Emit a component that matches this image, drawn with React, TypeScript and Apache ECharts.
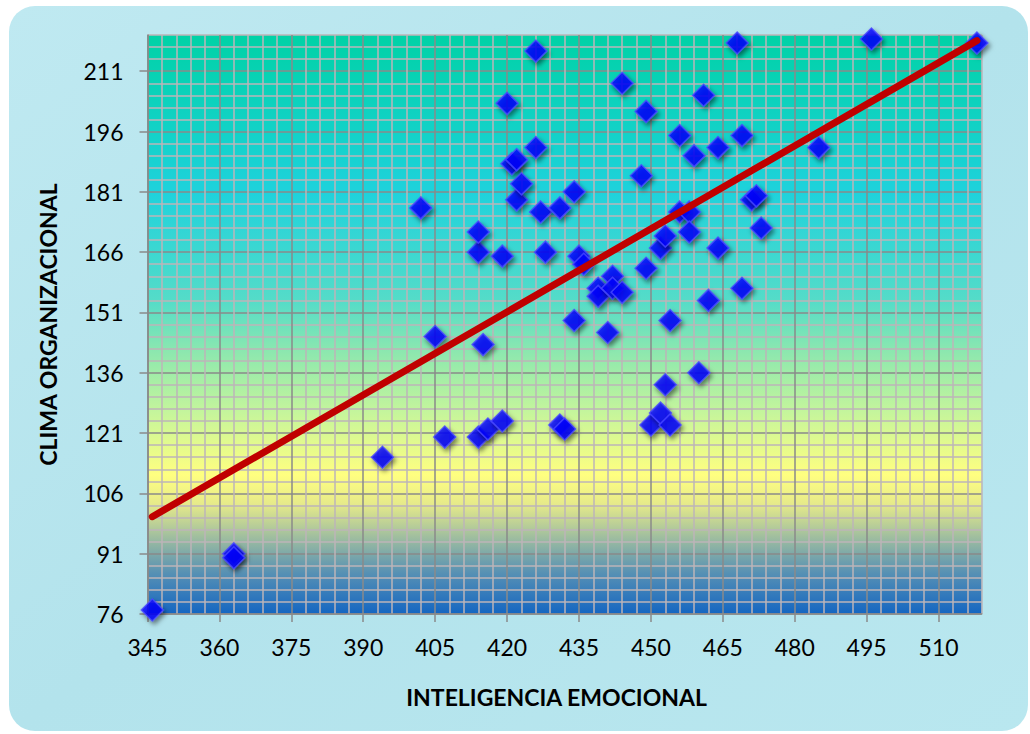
import React, { useEffect, useRef } from "react";
import * as echarts from "echarts";

// Inteligencia emocional (x) y clima organizacional (y) de cada encuestado
const inteligenciaEmocional = [
  346, 363, 363, 394, 402, 405, 407, 414, 416, 419, 415, 414, 414, 419, 420, 421, 422,
  422, 423, 426, 426, 427, 428, 431, 431, 432, 434, 434, 435, 436, 439, 439, 441, 442,
  442, 444, 444, 448, 449, 449, 450, 452, 452, 453, 453, 454, 454, 456, 456, 458, 458,
  459, 460, 461, 462, 464, 464, 468, 469, 469, 471, 472, 473, 485, 496, 518,
];
const climaOrganizacional = [
  77, 91, 90, 115, 177, 145, 120, 120, 122, 124, 143, 166, 171, 165, 203, 188, 189,
  179, 183, 216, 192, 176, 166, 177, 123, 122, 181, 149, 165, 163, 157, 155, 146, 160,
  157, 156, 208, 185, 201, 162, 123, 126, 167, 170, 133, 149, 123, 195, 176, 176, 171,
  190, 136, 205, 154, 192, 167, 218, 195, 157, 179, 180, 172, 192, 219, 218,
];

// Línea de tendencia lineal (extremos)
const tendenciaX = [346, 518];
const tendenciaY = [100.2, 218.6];

// Marcas de los ejes
const xTicks = [345, 360, 375, 390, 405, 420, 435, 450, 465, 480, 495, 510];
const yTicks = [76, 91, 106, 121, 136, 151, 166, 181, 196, 211];

const X_MIN = 345;
const X_MAX = 519;
const Y_MIN = 76;
const Y_MAX = 220;

const MAJOR = "#8a8a8a";
const MINOR = "#bdb5b8";
const gridColors = [MAJOR, MINOR, MINOR, MINOR, MINOR];

export default function App() {
  const ref = useRef<HTMLDivElement>(null);

  useEffect(() => {
    if (!ref.current) return;
    const chart = echarts.init(ref.current, null, { renderer: "svg" });

    const points = inteligenciaEmocional.map((x, i) => [x, climaOrganizacional[i]]);
    const trend = tendenciaX.map((x, i) => [x, tendenciaY[i]]);

    const labelStyle = {
      fontFamily: "Lato",
      fontSize: 23,
      color: "#000",
    };
    const nameStyle = {
      fontFamily: "Lato",
      fontSize: 23,
      fontWeight: "bold" as const,
      color: "#000",
    };

    chart.setOption({
      animation: false,
      graphic: {
        elements: [
          {
            type: "rect",
            z: -10,
            silent: true,
            shape: { x: 9, y: 6, width: 1019, height: 725, r: 26 },
            style: {
              fill: {
                type: "linear",
                x: 0,
                y: 0,
                x2: 1,
                y2: 1,
                colorStops: [
                  { offset: 0, color: "#bfe9f1" },
                  { offset: 0.5, color: "#b3e3ec" },
                  { offset: 1, color: "#b9e7ef" },
                ],
              },
            },
          },
        ],
      },
      grid: {
        left: 147.5,
        right: 48.3,
        top: 35,
        bottom: 120,
        show: true,
        borderWidth: 0,
        backgroundColor: {
          type: "linear",
          x: 0,
          y: 0,
          x2: 0,
          y2: 1,
          colorStops: [
            { offset: 0, color: "#00d2a6" },
            { offset: 0.27, color: "#1ed2dc" },
            { offset: 0.46, color: "#55dcc8" },
            { offset: 0.55, color: "#8ee8ae" },
            { offset: 0.65, color: "#c4f59c" },
            { offset: 0.76, color: "#ffff80" },
            { offset: 0.81, color: "#e6ea8a" },
            { offset: 0.87, color: "#9cbca0" },
            { offset: 0.93, color: "#5690b4" },
            { offset: 1, color: "#1466c2" },
          ],
        },
      },
      xAxis: [
        {
          type: "value",
          min: X_MIN,
          max: X_MAX,
          interval: 15,
          position: "bottom",
          name: "INTELIGENCIA EMOCIONAL",
          nameLocation: "middle",
          nameGap: 71,
          nameTextStyle: { ...nameStyle, padding: [0, 16, 0, 0] },
          axisLine: { show: true, lineStyle: { color: MAJOR, width: 1.5 } },
          axisTick: {
            show: true,
            length: 8,
            customValues: xTicks,
            lineStyle: { color: MAJOR, width: 1.5 },
          },
          axisLabel: { ...labelStyle, margin: 21, customValues: xTicks },
          splitLine: { show: false },
        },
        {
          type: "value",
          min: X_MIN,
          max: X_MAX,
          interval: 3,
          position: "top",
          axisLine: { show: false },
          axisTick: { show: false },
          axisLabel: { show: false },
          splitLine: { show: true, lineStyle: { color: gridColors, width: 1.5 } },
        },
      ],
      yAxis: [
        {
          type: "value",
          min: Y_MIN,
          max: Y_MAX,
          interval: 15,
          position: "left",
          name: "CLIMA ORGANIZACIONAL",
          nameLocation: "middle",
          nameGap: 88,
          nameTextStyle: nameStyle,
          axisLine: { show: true, lineStyle: { color: MAJOR, width: 1.5 } },
          axisTick: {
            show: true,
            length: 8,
            customValues: yTicks,
            lineStyle: { color: MAJOR, width: 1.5 },
          },
          axisLabel: { ...labelStyle, margin: 24, customValues: yTicks },
          splitLine: { show: false },
        },
        {
          type: "value",
          min: Y_MIN,
          max: Y_MAX,
          interval: 3,
          position: "right",
          axisLine: { show: false },
          axisTick: { show: false },
          axisLabel: { show: false },
          splitLine: { show: true, lineStyle: { color: gridColors, width: 1.5 } },
        },
      ],
      series: [
        {
          type: "scatter",
          xAxisIndex: 0,
          yAxisIndex: 0,
          data: points,
          symbol: "diamond",
          symbolSize: 22,
          z: 3,
          itemStyle: {
            color: "#0000ff",
            borderColor: "#4848ff",
            borderWidth: 1.5,
            shadowBlur: 5,
            shadowColor: "rgba(0,0,0,0.6)",
            shadowOffsetX: 2,
            shadowOffsetY: 3,
          },
        },
        {
          type: "line",
          xAxisIndex: 0,
          yAxisIndex: 0,
          data: trend,
          symbol: "none",
          z: 4,
          lineStyle: { color: "#c00000", width: 7, cap: "round" },
        },
      ],
    });

    return () => chart.dispose();
  }, []);

  return (
    <div
      ref={ref}
      style={{ position: "fixed", left: 0, top: 0, width: 1030, height: 734, background: "#fff" }}
    />
  );
}
